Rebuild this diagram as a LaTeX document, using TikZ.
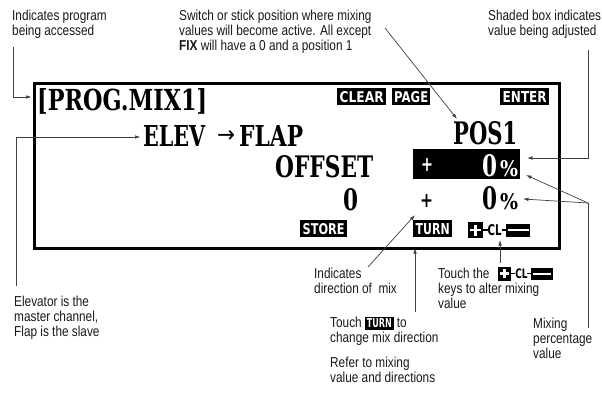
\documentclass[tikz,border=0pt]{standalone}
\usepackage{fontspec}
\usepackage{graphicx}
\usetikzlibrary{arrows.meta}
\newfontfamily\annfont[FakeStretch=0.82]{Liberation Sans}
\newfontfamily\lcdfont{DejaVu Serif}
\newfontfamily\keyfnt{DejaVu Sans}
\newcommand\lcdtxt[3]{\resizebox{#1pt}{#2pt}{\lcdfont\bfseries #3}}
\newcommand\keytxt[3]{\resizebox{#1pt}{#2pt}{\keyfnt\bfseries #3}}
\newcommand\ikey[1]{\smash{\setlength\fboxsep{1.8pt}\colorbox{black}{\textcolor{white}{\keytxt{25}{9}{#1}}}}}
\tikzset{
  ann/.style={font=\annfont\fontsize{14.4}{15}\selectfont, align=left, inner sep=0pt, anchor=north west, text=black!90},
  lcd/.style={inner sep=0pt, anchor=base west},
  lcdw/.style={inner sep=0pt, anchor=base west, text=white},
  keybox/.style={fill=black, text=white, inner sep=0pt, anchor=north west, minimum height=17pt},
  arr/.style={draw=black!75, line width=0.7pt, -{Latex[length=5.5pt,width=3.6pt]}},
  ln/.style={draw=black!75, line width=0.7pt},
  pics/pcm/.style={code={
    \fill[black] (0,0) rectangle (15,16);
    \draw[white, line width=2.6pt] (7.5,2.5) -- (7.5,13.5) (2,8) -- (13,8);
    \draw[black, line width=1.4pt] (15,8) -- (19.5,8);
    \node[transform shape, inner sep=0pt, anchor=west] at (19.5,8.3) {\keytxt{14}{11}{CL}};
    \draw[black, line width=1.4pt] (33.5,8) -- (38,8);
    \fill[black] (38,1.5) rectangle (62,15);
    \draw[white, line width=2pt] (39.5,8.2) -- (60.5,8.2);
  }}
}
\begin{document}
\begin{tikzpicture}[x=1pt,y=-1pt]
\fill[white] (0,0) rectangle (602,399);
\useasboundingbox (0,0) rectangle (602,399);

% LCD frame
\node[draw, line width=2.5pt, anchor=north west, minimum width=525pt, minimum height=165pt, inner sep=0pt] (lcd) at (33,82) {};

% LCD texts
\node[lcd] (prog) at (37,110) {\lcdtxt{170}{22}{[PROG.MIX1]}};
\node[lcd] (elev) at (143,146) {\lcdtxt{62}{21}{ELEV}};
\node[inner sep=0pt, anchor=center] (arrow) at (226,136) {\resizebox{18pt}{12pt}{\keyfnt →}};
\node[lcd] (flap) at (239,146) {\lcdtxt{64}{21}{FLAP}};
\node[lcd] (pos) at (453,144) {\lcdtxt{64}{23}{POS1}};
\node[lcd] (offset) at (275,177) {\lcdtxt{98}{22}{OFFSET}};
\node[fill=black, anchor=north west, minimum width=107pt, minimum height=30pt, inner sep=0pt] (hl) at (413,149) {};
\node[lcdw] (hlplus) at (421,171) {\lcdtxt{12}{13}{+}};
\node[lcdw] (hlzero) at (482,176) {\lcdtxt{15}{22}{0}};
\node[lcdw] (hlpct) at (500,176) {\lcdtxt{18}{16}{\%}};
\node[lcd] (zero) at (343,210) {\lcdtxt{15}{22}{0}};
\node[lcd] (plus) at (420,207) {\lcdtxt{13}{13}{+}};
\node[lcd] (valzero) at (482,209) {\lcdtxt{15}{23}{0}};
\node[lcd] (valpct) at (500,209) {\lcdtxt{18}{16}{\%}};

% keys
\node[keybox, minimum width=49pt] (clear) at (337,88) {\keytxt{44}{11}{CLEAR}};
\node[keybox, minimum width=38pt] (page) at (392,88) {\keytxt{34}{11}{PAGE}};
\node[keybox, minimum width=49pt] (enter) at (500,88) {\keytxt{44}{11}{ENTER}};
\node[keybox, minimum width=47pt] (store) at (300,220) {\keytxt{42}{11}{STORE}};
\node[keybox, minimum width=39pt] (turn) at (413,220) {\keytxt{34}{11}{TURN}};
\pic at (468,222) {pcm};

% annotations
\node[ann] (tl) at (12,9.4) {Indicates program\\being accessed};
\node[ann] (tc) at (179,9.4) {Switch or stick position where mixing\\values will become active. All except\\\textbf{FIX} will have a 0 and a position 1};
\node[ann] (tr) at (488,9.4) {Shaded box indicates\\value being adjusted};
\node[ann] (bl) at (14,296) {Elevator is the\\master channel,\\Flap is the slave};
\node[ann] (dir) at (314,267.4) {Indicates\\direction of~ mix};
\node[ann] (tturn) at (330,317) {Touch \ikey{TURN} to\\change mix direction};
\node[ann] (refer) at (330,357) {Refer to mixing\\value and directions};
\node[ann] (tcl) at (438,267.4) {Touch the\\keys to alter mixing\\value};
\pic[scale=0.88] at (498,266.5) {pcm};
\node[ann] (mixp) at (533,318) {Mixing\\percentage\\value};

% connector end points
\coordinate (c1) at (13,47);
\coordinate (t1) at (31.5,97);
\coordinate (c2) at (385,28);
\coordinate (t2) at (457,119);
\coordinate (c3) at (588,50);
\coordinate (t3) at (527,158);
\coordinate (c4) at (16,286);
\coordinate (t4) at (140.5,137);
\coordinate (c5) at (368,267);
\coordinate (t5) at (415,215);
\coordinate (c6) at (415,312);
\coordinate (t6) at (415,248);
\coordinate (c7) at (500,263);
\coordinate (t7) at (500,240);
\coordinate (c8) at (588,328);
\coordinate (j8) at (588,203);
\coordinate (t8a) at (526,175);
\coordinate (t8b) at (523,199);

\draw[arr] (c1) |- (t1);
\draw[arr] (c2) -- (t2);
\draw[arr] (c3) |- (t3);
\draw[arr] (c4) |- (t4);
\draw[arr] (c5) -- (t5);
\draw[arr] (c6) -- (t6);
\draw[arr] (c7) -- (t7);
\draw[ln] (c8) -- (j8);
\draw[arr] (j8) -- (t8a);
\draw[arr] (j8) -- (t8b);
\end{tikzpicture}
\end{document}
